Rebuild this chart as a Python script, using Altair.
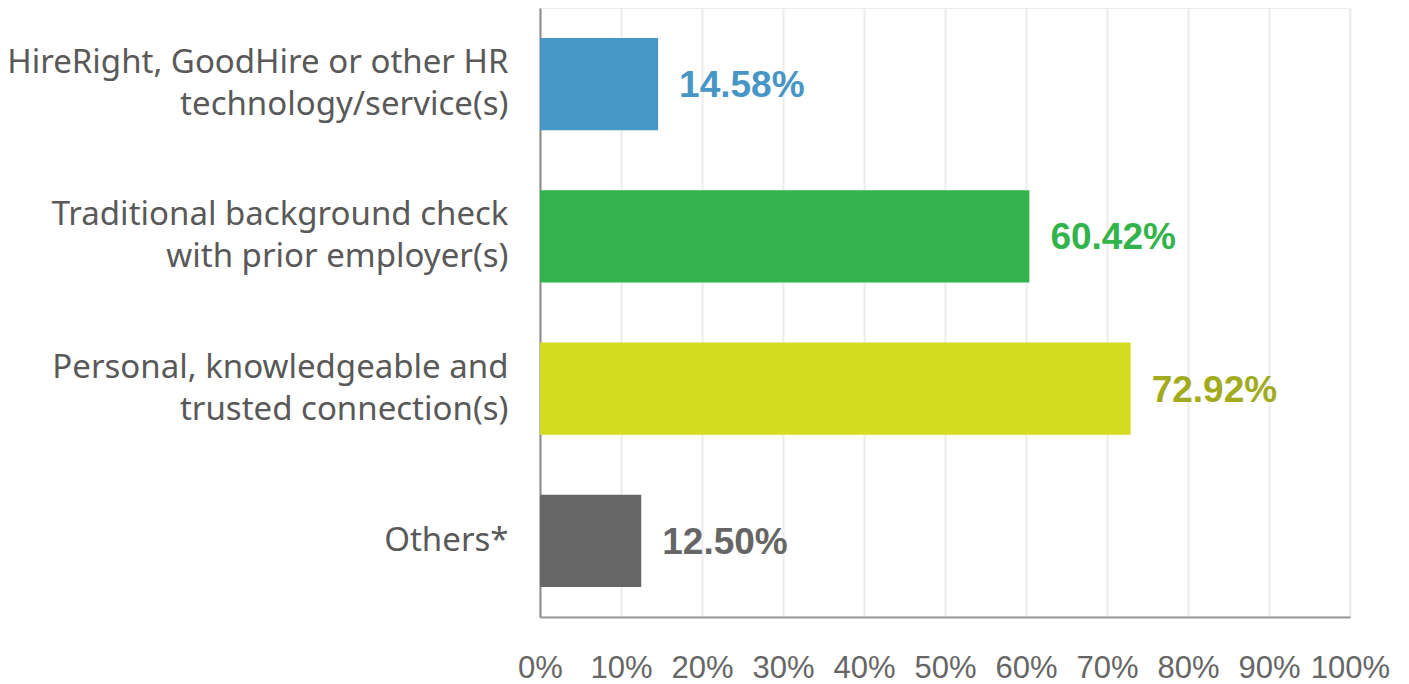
import altair as alt
import pandas as pd

categories = [
    "HireRight, GoodHire or other HR|technology/service(s)",
    "Traditional background check|with prior employer(s)",
    "Personal, knowledgeable and|trusted connection(s)",
    "Others*",
]
values = [14.58, 60.42, 72.92, 12.50]
bar_colors = ["#4696c6", "#33b34b", "#d4dc1f", "#666666"]
label_colors = ["#4696c6", "#33b34b", "#a2ab1e", "#666666"]
x_ticks = [0, 10, 20, 30, 40, 50, 60, 70, 80, 90, 100]

df = pd.DataFrame({"category": categories, "value": values})

base = alt.Chart(df).encode(
    y=alt.Y(
        "category:N",
        sort=categories,
        scale=alt.Scale(paddingInner=0.395, paddingOuter=0.1975),
        axis=alt.Axis(
            title=None,
            labelExpr="split(datum.label, '|')",
            labelFont="Noto Sans",
            labelFontSize=33,
            labelColor="#595959",
            labelLineHeight=42,
            labelPadding=32,
            labelLimit=600,
            labelOffset=alt.ExprRef("indexof(datum.value, '|') >= 0 ? -21 : 0"),
            ticks=False,
            domainColor="#8c8c8c",
            domainWidth=2,
            grid=False,
        ),
    ),
)

bars = base.mark_bar().encode(
    x=alt.X(
        "value:Q",
        scale=alt.Scale(domain=[0, 100], nice=False),
        axis=alt.Axis(
            title=None,
            values=x_ticks,
            labelExpr="datum.value + '%'",
            labelFont="Liberation Sans",
            labelFontSize=31,
            labelColor="#666666",
            labelPadding=36,
            labelOverlap=False,
            labelFlush=False,
            labelBound=False,
            ticks=False,
            domainColor="#999999",
            domainWidth=2,
            grid=True,
            gridColor="#ececec",
            gridWidth=2,
        ),
    ),
    color=alt.Color("category:N", scale=alt.Scale(domain=categories, range=bar_colors), legend=None),
)

labels = base.transform_calculate(
    label="format(datum.value, '.2f') + '%'"
).mark_text(
    align="left", baseline="middle", dx=21, dy=2,
    font="Liberation Sans", fontWeight="bold", fontSize=37,
).encode(
    x="value:Q",
    text="label:N",
    color=alt.Color("category:N", scale=alt.Scale(domain=categories, range=label_colors), legend=None),
)

chart = (
    alt.layer(bars, labels)
    .resolve_scale(color="independent")
    .properties(
        width=810,
        height=609,
        autosize=alt.AutoSizeParams(type="none"),
        padding={"left": 532, "top": 0, "right": 40, "bottom": 70},
    )
    .configure_view(stroke="#ececec", strokeWidth=2)
)

chart.save("out.html", embed_options={"renderer": "svg", "actions": False})
